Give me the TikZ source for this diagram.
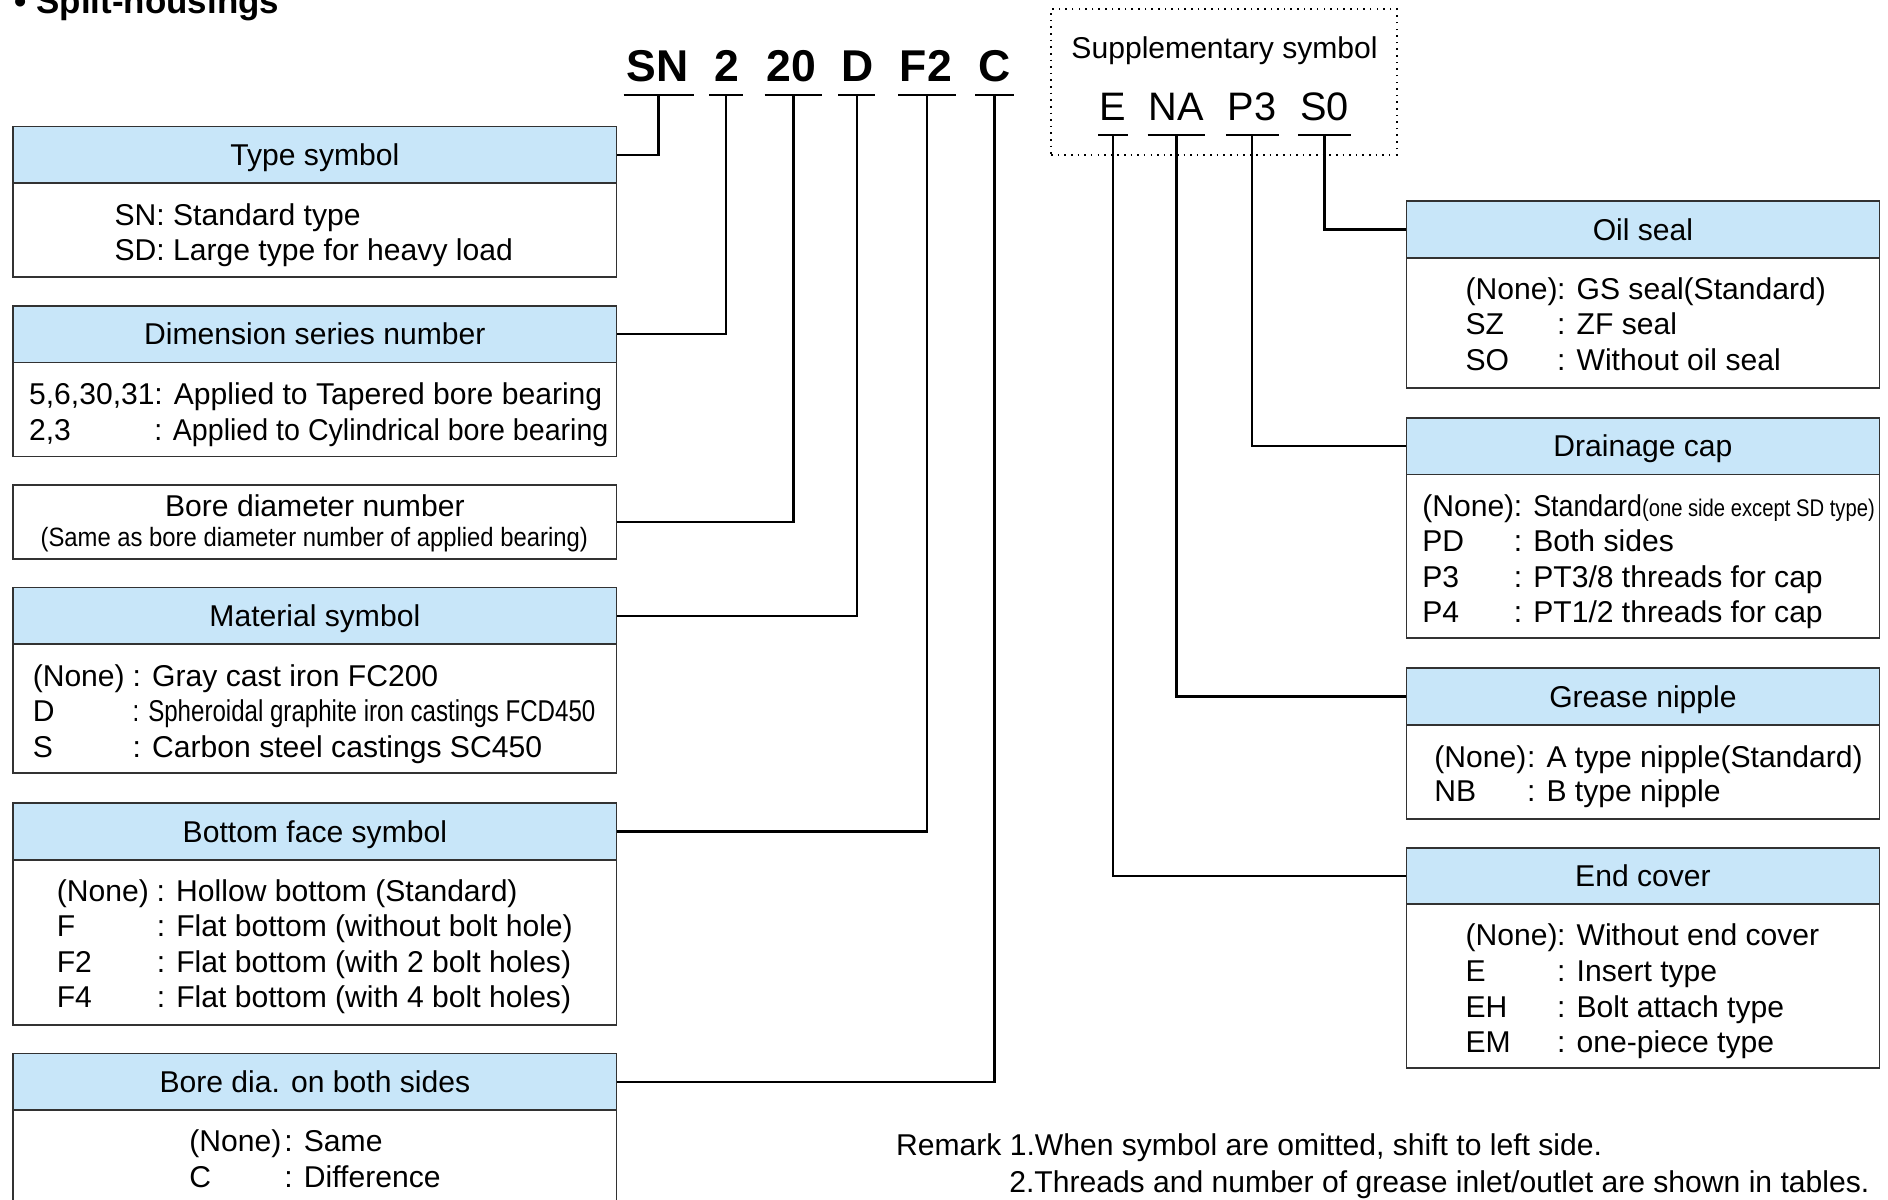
\documentclass[tikz,border=0pt]{standalone}
\usepackage{fontspec}
\setmainfont{Liberation Sans}
\newfontfamily\codefont{Liberation Sans Bold}
\newfontfamily\supfont{Liberation Sans}
\newfontfamily\condfont{Liberation Sans}[FakeStretch=0.80]
\newfontfamily\semicond{Liberation Sans}[FakeStretch=0.90]
\newfontfamily\tinycond{Liberation Sans}[FakeStretch=0.84]
\definecolor{hdrblue}{RGB}{200,230,249}
\definecolor{boxgray}{RGB}{50,50,50}
\begin{document}
\begin{tikzpicture}[x=1pt,y=1pt,
  base/.style={font=\fontsize{25}{30}\selectfont},
  hdr/.style={draw=boxgray, line width=1.4pt, fill=hdrblue, minimum height=47pt, inner sep=0pt, text height=22pt, text depth=4pt, base},
  bodybox/.style={draw=boxgray, line width=1.4pt, fill=white, inner sep=0pt},
  txt/.style={anchor=base west, inner sep=0pt, base},
  ctxt/.style={anchor=base, inner sep=0pt, base},
  code/.style={anchor=base, inner sep=0pt, font=\codefont\fontsize{37}{44}\selectfont},
  scode/.style={anchor=base, inner sep=0pt, font=\supfont\fontsize{33}{40}\selectfont},
  uline/.style={line width=2pt, black},
  conn/.style={line width=2pt, black}]
\clip (0,0) rectangle (1568,-996);
\fill[white] (0,0) rectangle (1568,-996);

% title
\node[anchor=base west, inner sep=0pt, font=\fontsize{29}{34}\selectfont\bfseries] (title) at (12,-11) {• Split-housings};

% main code
\node[code] (cSN) at (546,-68) {SN};
\node[code] (c2) at (603.5,-68) {2};
\node[code] (c20) at (657,-68) {20};
\node[code] (cD) at (712,-68) {D};
\node[code] (cF2) at (769,-68) {F2};
\node[code] (cC) at (826,-68) {C};
\coordinate (uSN) at (547,-79);
\coordinate (u2) at (603,-79);
\coordinate (u20) at (659,-79);
\coordinate (uD) at (711.5,-79);
\coordinate (uF2) at (770,-79);
\coordinate (uC) at (826,-79);
\draw[uline] ([xshift=-29pt]uSN) -- ([xshift=29pt]uSN);
\draw[uline] ([xshift=-14pt]u2) -- ([xshift=14pt]u2);
\draw[uline] ([xshift=-24pt]u20) -- ([xshift=24pt]u20);
\draw[uline] ([xshift=-15.5pt]uD) -- ([xshift=15.5pt]uD);
\draw[uline] ([xshift=-24pt]uF2) -- ([xshift=24pt]uF2);
\draw[uline] ([xshift=-16pt]uC) -- ([xshift=16pt]uC);

% supplementary
\node[draw=black, line width=1.3pt, dash pattern={on 1.3pt off 4.2pt}, minimum width=287pt, minimum height=121pt, inner sep=0pt] (supbox) at (1016.5,-68) {};
\node[ctxt] (suptitle) at (1017,-48.5) {Supplementary symbol};
\node[scode] (sE) at (924,-100) {E};
\node[scode] (sNA) at (977,-100) {NA};
\node[scode] (sP3) at (1040,-100) {P3};
\node[scode] (sS0) at (1100,-100) {S0};
\coordinate (uE) at (924.5,-112);
\coordinate (uNA) at (977,-112);
\coordinate (uP3) at (1040,-112);
\coordinate (uS0) at (1100,-112);
\draw[uline] ([xshift=-12.5pt]uE) -- ([xshift=12.5pt]uE);
\draw[uline] ([xshift=-24pt]uNA) -- ([xshift=24pt]uNA);
\draw[uline] ([xshift=-22pt]uP3) -- ([xshift=22pt]uP3);
\draw[uline] ([xshift=-22pt]uS0) -- ([xshift=22pt]uS0);

% ---------- left boxes ----------
% Type symbol
\node[bodybox, minimum width=501pt, minimum height=78pt] (b1) at (261.5,-191) {};
\node[hdr, minimum width=501pt] (h1) at (261.5,-128.5) {Type symbol};
\node[txt] at (95,-187) {SN: Standard type};
\node[txt] at (95,-216) {SD: Large type for heavy load};

% Dimension series number
\node[bodybox, minimum width=501pt, minimum height=78pt] (b2) at (261.5,-340) {};
\node[hdr, minimum width=501pt] (h2) at (261.5,-277.5) {Dimension series number};
\node[txt] at (24,-336) {\makebox[104pt][l]{5,6,30,31}: Applied to Tapered bore bearing};
\node[txt] at (24,-366) {\makebox[104pt][l]{2,3}\scalebox{0.95}[1]{: Applied to Cylindrical bore bearing}};

% Bore diameter number
\node[bodybox, minimum width=501pt, minimum height=61pt] (h3) at (261.5,-433.5) {};
\node[ctxt] at (261.5,-429) {Bore diameter number};
\node[anchor=base, inner sep=0pt, font=\semicond\fontsize{22}{26}\selectfont] at (261,-454) {(Same as bore diameter number of applied bearing)};

% Material symbol
\node[bodybox, minimum width=501pt, minimum height=107pt] (b4) at (261.5,-588.5) {};
\node[hdr, minimum width=501pt] (h4) at (261.5,-511.5) {Material symbol};
\node[txt] at (27,-570) {\makebox[83pt][l]{(None)}: Gray cast iron FC200};
\node[txt] at (27,-599) {\makebox[83pt][l]{D}{\condfont : Spheroidal graphite iron castings FCD450}};
\node[txt] at (27,-629) {\makebox[83pt][l]{S}: Carbon steel castings SC450};

% Bottom face symbol
\node[bodybox, minimum width=501pt, minimum height=137pt] (b5) at (261.5,-782.5) {};
\node[hdr, minimum width=501pt] (h5) at (261.5,-690.5) {Bottom face symbol};
\node[txt] at (47,-749) {\makebox[83pt][l]{(None)}: Hollow bottom (Standard)};
\node[txt] at (47,-778) {\makebox[83pt][l]{F}: Flat bottom (without bolt hole)};
\node[txt] at (47,-808) {\makebox[83pt][l]{F2}: Flat bottom (with 2 bolt holes)};
\node[txt] at (47,-837) {\makebox[83pt][l]{F4}: Flat bottom (with 4 bolt holes)};

% Bore dia. on both sides
\node[bodybox, minimum width=501pt, minimum height=100pt] (b6) at (261.5,-972) {};
\node[hdr, minimum width=501pt] (h6) at (261.5,-898.5) {Bore dia. on both sides};
\node[txt] at (157,-956) {\makebox[79pt][l]{(None)}: Same};
\node[txt] at (157,-986) {\makebox[79pt][l]{C}: Difference};

% ---------- right boxes ----------
% Oil seal
\node[bodybox, minimum width=393pt, minimum height=108pt] (rb1) at (1364.5,-268) {};
\node[hdr, minimum width=393pt] (r1) at (1364.5,-190.5) {Oil seal};
\node[txt] at (1217,-249) {\makebox[76pt][l]{(None)}: GS seal(Standard)};
\node[txt] at (1217,-278) {\makebox[76pt][l]{SZ}: ZF seal};
\node[txt] at (1217,-308) {\makebox[76pt][l]{SO}: Without oil seal};

% Drainage cap
\node[bodybox, minimum width=393pt, minimum height=136pt] (rb2) at (1364.5,-462) {};
\node[hdr, minimum width=393pt] (r2) at (1364.5,-370.5) {Drainage cap};
\node[txt] at (1181,-429) {\makebox[76pt][l]{(None)}: \scalebox{0.89}[1]{Standard}{\tinycond\fontsize{20}{24}\selectfont(one side except SD type)}};
\node[txt] at (1181,-458) {\makebox[76pt][l]{PD}: Both sides};
\node[txt] at (1181,-488) {\makebox[76pt][l]{P3}: PT3/8 threads for cap};
\node[txt] at (1181,-517) {\makebox[76pt][l]{P4}: PT1/2 threads for cap};

% Grease nipple
\node[bodybox, minimum width=393pt, minimum height=78pt] (rb3) at (1364.5,-641) {};
\node[hdr, minimum width=393pt] (r3) at (1364.5,-578.5) {Grease nipple};
\node[txt] at (1191,-637) {\makebox[77pt][l]{(None)}: A type nipple(Standard)};
\node[txt] at (1191,-666) {\makebox[77pt][l]{NB}: B type nipple};

% End cover
\node[bodybox, minimum width=393pt, minimum height=136pt] (rb4) at (1364.5,-819) {};
\node[hdr, minimum width=393pt] (r4) at (1364.5,-727.5) {End cover};
\node[txt] at (1217,-785) {\makebox[76pt][l]{(None)}: Without end cover};
\node[txt] at (1217,-815) {\makebox[76pt][l]{E}: Insert type};
\node[txt] at (1217,-845) {\makebox[76pt][l]{EH}: Bolt attach type};
\node[txt] at (1217,-874) {\makebox[76pt][l]{EM}: one-piece type};

% remarks
\node[txt] (rem1) at (744,-960) {Remark 1.When symbol are omitted, shift to left side.};
\node[txt] (rem2) at (838,-990) {2.Threads and number of grease inlet/outlet are shown in tables.};

% ---------- connectors ----------
\draw[conn] (uSN) |- (h1.east);
\draw[conn] (u2) |- (h2.east);
\draw[conn] (u20) |- (h3.east);
\draw[conn] (uD) |- (h4.east);
\draw[conn] (uF2) |- (h5.east);
\draw[conn] (uC) |- (h6.east);
\draw[conn] (uS0) |- (r1.west);
\draw[conn] (uP3) |- (r2.west);
\draw[conn] (uNA) |- (r3.west);
\draw[conn] (uE) |- (r4.west);
\end{tikzpicture}
\end{document}
